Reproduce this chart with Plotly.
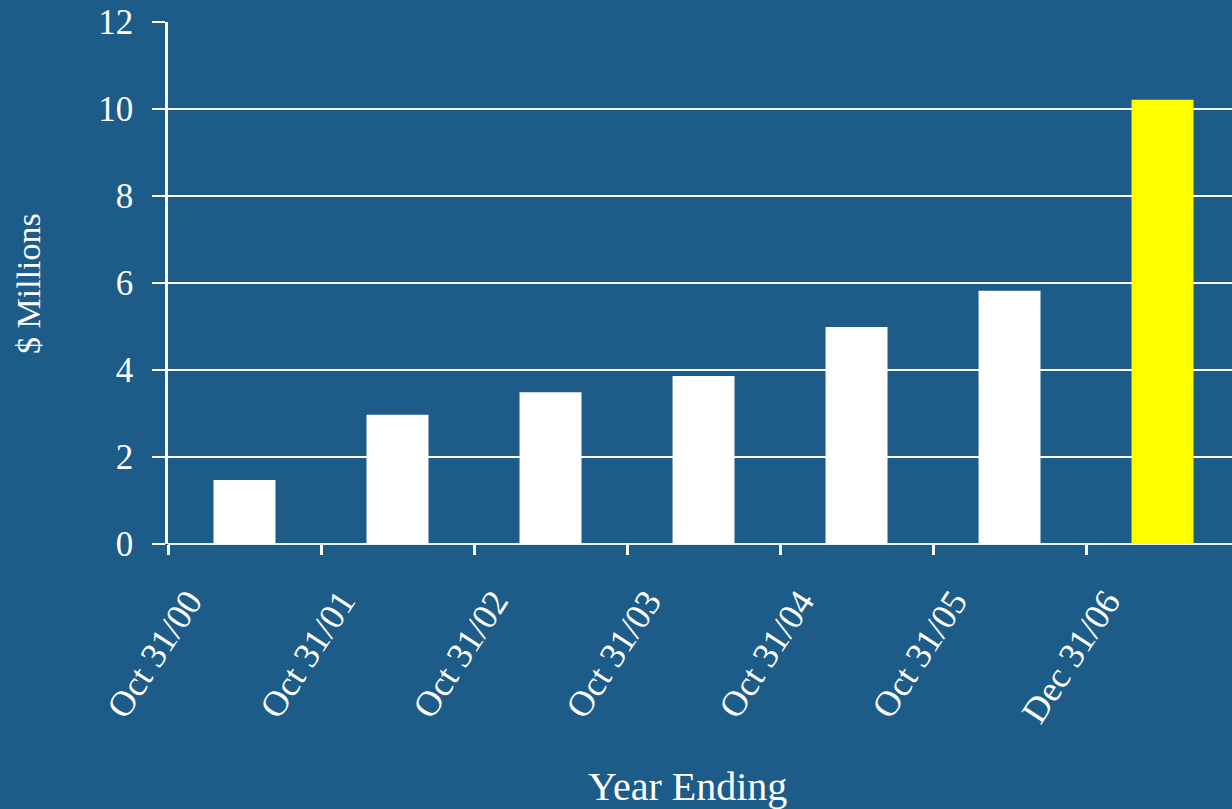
import plotly.graph_objects as go

categories = ["Oct 31/00", "Oct 31/01", "Oct 31/02", "Oct 31/03", "Oct 31/04", "Oct 31/05", "Dec 31/06"]
values = [1.47, 2.97, 3.49, 3.86, 4.99, 5.82, 10.21]
bar_colors = ["#FFFFFF"] * 6 + ["#FFFF00"]
y_ticks = [0, 2, 4, 6, 8, 10, 12]

BG = "#1D5B89"
FONT = "Liberation Serif"

fig = go.Figure(go.Bar(x=categories, y=values, marker=dict(color=bar_colors, line=dict(width=0)),
                       showlegend=False))

fig.update_layout(
    width=1232, height=809,
    paper_bgcolor=BG, plot_bgcolor=BG,
    margin=dict(l=168, r=0, t=22, b=265),
    bargap=0.595,
    font=dict(family=FONT, color="white"),
    xaxis=dict(
        type="category",
        range=[-0.5, 6.454],
        showgrid=False,
        tickson="boundaries",
        ticks="outside", ticklen=10, tickwidth=3, tickcolor="white",
        tickangle=-57,
        tickfont=dict(family=FONT, size=36, color="white"),
        ticklabelshift=-56,
        ticklabelstandoff=28,
        showline=False,
        zeroline=False,
    ),
    yaxis=dict(
        range=[0, 12],
        tickvals=y_ticks,
        ticktext=[str(v) for v in y_ticks],
        showgrid=True, gridcolor="white", gridwidth=2,
        zeroline=True, zerolinecolor="#E6EEF5", zerolinewidth=2,
        showline=True, linecolor="white", linewidth=2.5,
        ticks="outside", ticklen=13, tickwidth=2, tickcolor="white",
        tickfont=dict(family=FONT, size=35, color="white"),
        ticklabelstandoff=12,
    ),
    annotations=[
        dict(text="Year Ending", xref="paper", yref="paper", x=0.488, y=-0.4655,
             xanchor="center", yanchor="middle", showarrow=False,
             font=dict(family=FONT, size=40, color="white")),
        dict(text="$ Millions", xref="paper", yref="paper", x=-0.1316, y=0.5,
             xanchor="center", yanchor="middle", textangle=-90, showarrow=False,
             font=dict(family=FONT, size=34, color="white")),
    ],
)

fig.write_html("out.html")
